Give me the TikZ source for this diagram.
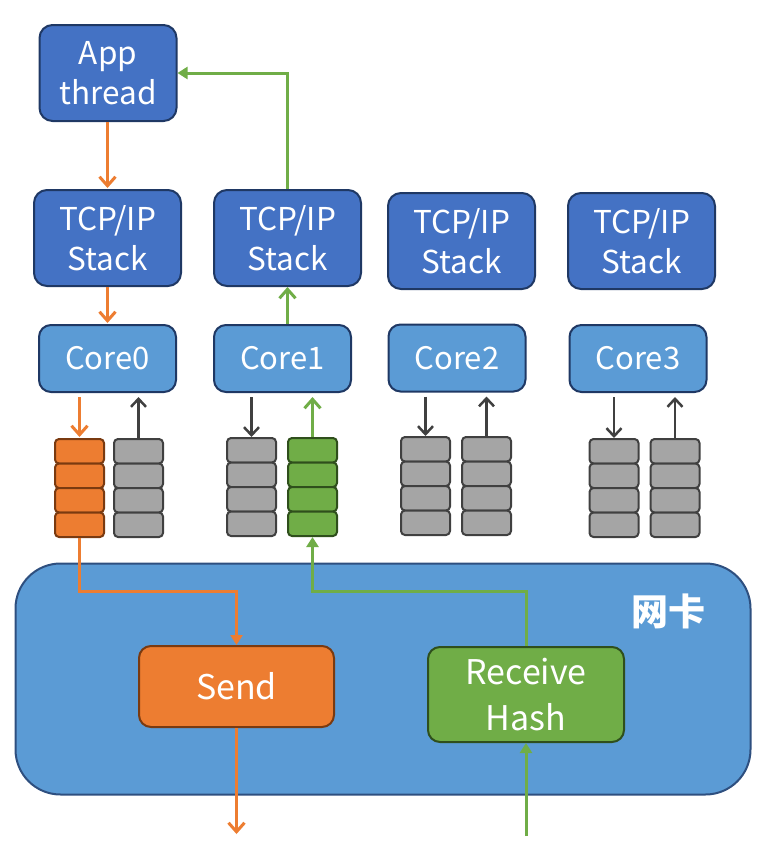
\documentclass[tikz,border=0pt]{standalone}
\usepackage{fontspec}
\setmainfont{Noto Sans CJK SC}
\newfontfamily\cjk{Noto Sans CJK SC}
\usetikzlibrary{arrows.meta,calc}
\definecolor{darkblue}{HTML}{4472C4}
\definecolor{midblue}{HTML}{5B9BD5}
\definecolor{navy}{HTML}{1F3864}
\definecolor{nicborder}{HTML}{2E4F7F}
\definecolor{myorange}{HTML}{ED7D31}
\definecolor{orangeborder}{HTML}{7A3A10}
\definecolor{mygreen}{HTML}{70AD47}
\definecolor{greenborder}{HTML}{2F4F1C}
\definecolor{qgray}{HTML}{A5A5A5}
\definecolor{qborder}{HTML}{404040}
\definecolor{arrgray}{HTML}{404040}
\tikzset{
  topbox/.style={draw=navy, line width=2pt, fill=darkblue, rounded corners=13pt, text=white, align=center, font=\fontsize{31.5}{40}\selectfont, inner sep=0pt},
  corebox/.style={draw=navy, line width=2pt, fill=midblue, rounded corners=12pt, text=white, align=center, font=\fontsize{31}{36}\selectfont, inner sep=0pt, minimum width=137pt, minimum height=67pt},
  cell/.style={draw=qborder, line width=2pt, fill=qgray, rounded corners=4pt, minimum width=49pt, minimum height=24.5pt, inner sep=0pt},
  ocell/.style={cell, draw=orangeborder, fill=myorange},
  gcell/.style={cell, draw=greenborder, fill=mygreen},
  oline/.style={draw=myorange, line width=3pt},
  gline/.style={draw=mygreen, line width=3pt},
  barb/.style={-{Straight Barb[length=9pt,width=16pt,line width=3pt]}},
  tri/.style={-{Triangle[length=10pt,width=12pt]}},
  garr/.style={draw=arrgray, line width=2.5pt, -{Straight Barb[length=8pt,width=15pt,line width=2.5pt]}},
}
\begin{document}
\begin{tikzpicture}[x=1pt,y=-1pt]
\useasboundingbox (0,0) rectangle (783,844);
% NIC
\node[draw=nicborder, line width=2pt, fill=midblue, rounded corners=45pt, minimum width=735pt, minimum height=231pt, inner sep=0pt] (nic) at (383,679) {};
\node[text=white, font=\cjk\bfseries\fontsize{37}{37}\selectfont] (niclabel) at (668,611) {网卡};
% top boxes
\node[topbox, minimum width=137pt, minimum height=96pt] (app) at (108,73) {App\\thread};
\node[topbox, minimum width=147pt, minimum height=96pt] (tcp0) at (107.5,238) {TCP/IP\\Stack};
\node[topbox, minimum width=147pt, minimum height=96pt] (tcp1) at (287.5,238) {TCP/IP\\Stack};
\node[topbox, minimum width=147pt, minimum height=96pt] (tcp2) at (461.5,241) {TCP/IP\\Stack};
\node[topbox, minimum width=147pt, minimum height=96pt] (tcp3) at (641.5,241) {TCP/IP\\Stack};
% cores
\node[corebox] (core0) at (107.5,358.5) {Core0};
\node[corebox] (core1) at (282.5,358.5) {Core1};
\node[corebox] (core2) at (457,358) {Core2};
\node[corebox] (core3) at (638,358.5) {Core3};
% queues
\foreach \n/\x/\y/\s in {q0a/79.5/439/ocell, q0b/138.5/439/cell, q1a/251.5/438/cell, q1b/312.5/438/gcell, q2a/425.5/437/cell, q2b/486.5/437/cell, q3a/614/439/cell, q3b/675/439/cell}{
  \foreach \i in {1,2,3,4}{
    \node[\s] (\n\i) at (\x,{\y+12.25+(\i-1)*24.5}) {};
  }
}
% send / receive
\node[draw=orangeborder, line width=2pt, fill=myorange, rounded corners=12pt, minimum width=195pt, minimum height=81pt, text=white, font=\fontsize{34}{38}\selectfont, inner sep=0pt] (send) at (236.5,686.5) {Send};
\node[draw=greenborder, line width=2pt, fill=mygreen, rounded corners=12pt, minimum width=196pt, minimum height=95pt, text=white, align=center, font=\fontsize{34}{46}\selectfont, inner sep=0pt] (recv) at (526,694.5) {Receive\\Hash};
\coordinate (gy) at (0,591);
\coordinate (sendout) at (236.5,834);
\coordinate (recvin) at (526,836);
% orange path (send)
\draw[oline, barb, shorten >=1pt] (app.south -| tcp0) -- (tcp0.north);
\draw[oline, barb, shorten >=1pt] (tcp0.south) -- (tcp0.south |- core0.north);
\draw[oline, barb, shorten <=4pt, shorten >=1pt] (core0.south -| q0a1) -- (q0a1.north);
\draw[oline, tri] (q0a4.south) -- (q0a4.south |- gy) -| (send.north);
\draw[oline, barb] (send.south) -- (sendout);
% green path (receive)
\draw[gline, tri] (recvin) -- (recv.south);
\draw[gline, tri] (recv.north) -- (recv.north |- gy) -| (q1b4.south);
\draw[gline, barb, shorten >=4pt] (q1b1.north) -- (q1b1.north |- core1.south);
\draw[gline, barb] (core1.north -| tcp1) -- (tcp1.south);
\draw[gline, tri] (tcp1.north) |- (app.east);
% gray arrows
\draw[garr, shorten >=4pt] (q0b1.north) -- (q0b1.north |- core0.south);
\draw[garr, shorten <=4pt] (core1.south -| q1a1) -- (q1a1.north);
\draw[garr, shorten <=4pt] (core2.south -| q2a1) -- (q2a1.north);
\draw[garr, shorten >=4pt] (q2b1.north) -- (q2b1.north |- core2.south);
\draw[garr, shorten <=4pt] (core3.south -| q3a1) -- (q3a1.north);
\draw[garr, shorten >=4pt] (q3b1.north) -- (q3b1.north |- core3.south);
\end{tikzpicture}
\end{document}
